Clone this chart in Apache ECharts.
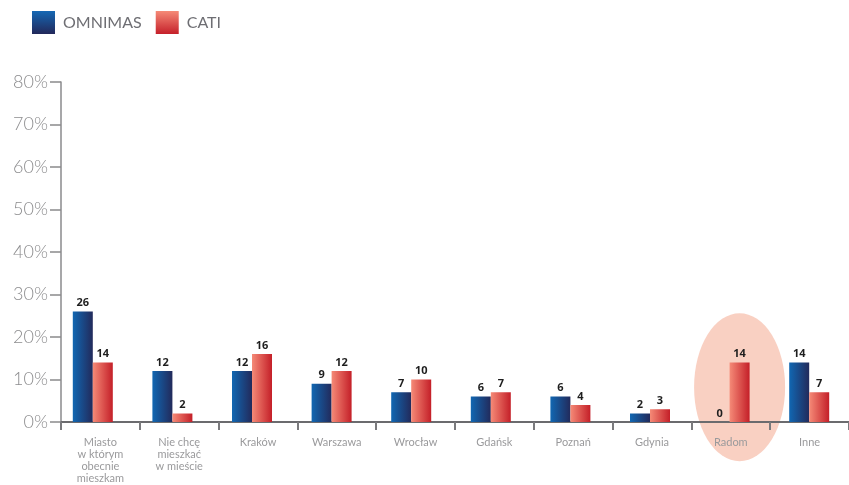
<!DOCTYPE html>
<html>
<head>
<meta charset="utf-8">
<script src="https://cdn.jsdelivr.net/npm/echarts@6/dist/echarts.min.js"></script>
<style>
  html, body { margin: 0; padding: 0; background: #ffffff; }
  #chart { width: 849px; height: 485px; }
</style>
</head>
<body>
<div id="chart"></div>
<script>
// Categories (cities) and the share of answers for each survey mode, in %
const categories = ['Miasto\nw którym\nobecnie\nmieszkam', 'Nie chcę\nmieszkać\nw mieście', 'Kraków', 'Warszawa', 'Wrocław', 'Gdańsk', 'Poznań', 'Gdynia', 'Radom', 'Inne'];
const omnimas = [26, 12, 12, 9, 7, 6, 6, 2, 0, 14];
const cati = [14, 2, 16, 12, 10, 7, 4, 3, 14, 7];
const seriesNames = ['OMNIMAS', 'CATI'];
const highlighted = 'Radom';

const chart = echarts.init(document.getElementById('chart'), null, { renderer: 'canvas' });

const hGrad = (a, b) => new echarts.graphic.LinearGradient(0, 0, 1, 0, [{ offset: 0, color: a }, { offset: 1, color: b }]);
const vGrad = (a, b) => new echarts.graphic.LinearGradient(0, 0, 0, 1, [{ offset: 0, color: a }, { offset: 1, color: b }]);

const BAR_W = 20;
const labelStyle = {
  show: true, position: 'top', distance: 3,
  color: '#1e1e1e', fontSize: 11, fontWeight: 'bold', fontFamily: 'Open Sans'
};

chart.setOption({
  animation: false,
  backgroundColor: '#ffffff',
  legend: {
    left: 32, top: 11, padding: 0,
    itemWidth: 23, itemHeight: 23, itemGap: 14,
    icon: 'rect',
    textStyle: { color: '#6e6e73', fontSize: 16, fontFamily: 'Lato', padding: [0, 0, 0, 3] },
    data: [
      { name: seriesNames[0], itemStyle: { color: vGrad('#1668b4', '#22285a') } },
      { name: seriesNames[1], itemStyle: { color: vGrad('#f58a77', '#c5202a') } }
    ]
  },
  grid: [
    { left: 61, top: 82, width: 792, height: 340 },
    { left: 53, top: 82, width: 800, height: 340 }
  ],
  xAxis: [
    {
      type: 'category', gridIndex: 0, data: categories,
      axisLine: { lineStyle: { color: '#6b6b6e', width: 2 } },
      axisTick: { show: true, interval: 0, length: 8, lineStyle: { color: '#7a7a7d', width: 2 } },
      axisLabel: { interval: 0, color: '#9a9a9c', fontSize: 11, lineHeight: 12, margin: 14, fontFamily: 'Lato' }
    },
    {
      type: 'category', gridIndex: 1, data: categories,
      show: false
    }
  ],
  yAxis: [
    {
      type: 'value', gridIndex: 0, min: 0, max: 80, interval: 10,
      axisLine: { show: true, lineStyle: { color: '#8a8a8c', width: 1.5 } },
      axisTick: { show: true, length: 11, lineStyle: { color: '#8a8a8c', width: 1.5 } },
      splitLine: { show: false },
      axisLabel: { color: '#8c8c8e', fontSize: 18, fontFamily: 'Lato', fontWeight: 300, margin: 13, formatter: v => v + '%' }
    },
    {
      type: 'value', gridIndex: 1, min: 0, max: 80, interval: 10, show: false
    }
  ],
  series: [
    {
      name: seriesNames[0], type: 'bar', xAxisIndex: 1, yAxisIndex: 1,
      data: omnimas, barWidth: BAR_W, barGap: '0%',
      itemStyle: { color: hGrad('#1167b2', '#222a5b') },
      label: labelStyle
    },
    {
      name: seriesNames[1], type: 'bar', xAxisIndex: 1, yAxisIndex: 1,
      data: cati, barWidth: BAR_W, barGap: '0%',
      itemStyle: { color: hGrad('#f58a77', '#c41f28') },
      label: labelStyle
    }
  ]
});

// Soft ellipse behind the highlighted category, centred on its CATI bar
const idx = categories.indexOf(highlighted);
const cx = chart.convertToPixel({ xAxisIndex: 1 }, idx) + BAR_W / 2;
const cy = chart.convertToPixel({ yAxisIndex: 1 }, 8.2);
const rx = 45.5, ry = 74;
chart.setOption({
  graphic: [{
    type: 'circle', z: -10, silent: true,
    x: cx, y: cy, scaleX: 1, scaleY: ry / rx,
    shape: { cx: 0, cy: 0, r: rx },
    style: { fill: '#f9d0c2' }
  }]
});
</script>
</body>
</html>
